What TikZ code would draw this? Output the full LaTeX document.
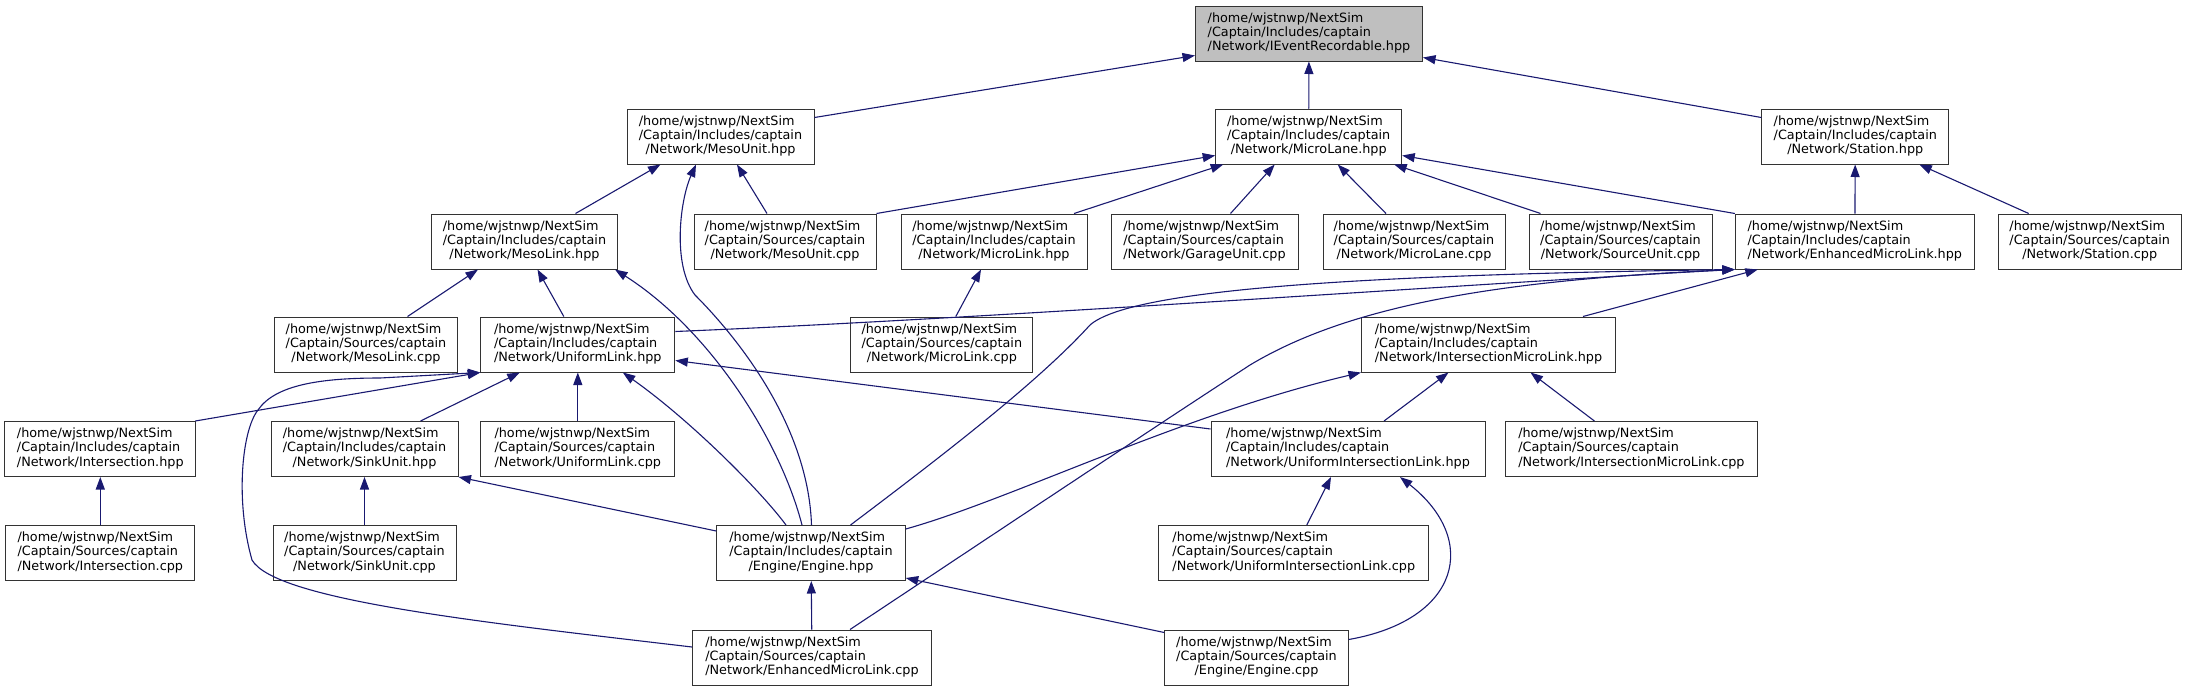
\documentclass[tikz,border=0pt]{standalone}
\usepackage{fontspec}
\setmainfont{DejaVu Sans}
\usetikzlibrary{arrows.meta}
\definecolor{edgeblue}{HTML}{191970}
% three-line file label: first two lines left, last one centred
\newcommand{\fpath}[2]{%
  \begin{tabular}{@{}l@{}}/home/wjstnwp/NextSim\\/Captain/#1/captain\\\multicolumn{1}{@{}c@{}}{/#2}\end{tabular}}

\begin{document}
\begin{tikzpicture}[
    x=1pt, y=1pt,
    file/.style={draw=black!80, line width=1pt, fill=white, minimum height=55pt, inner sep=3pt,
      font={\fontsize{12.8}{14.2}\selectfont}},
    root/.style={file, fill=black!25},
    inc/.style={draw=edgeblue, line width=1.1pt, -{Triangle[length=12.5pt, width=9pt]}},
  ]
  \useasboundingbox (0,0) rectangle (2187,-691);
  % row 1
  \node[root, minimum width=227pt] (ievent) at (1309,-33.5) {\fpath{Includes}{Network/IEventRecordable.hpp}};
  % row 2
  \node[file, minimum width=187pt] (mesounit) at (720.5,-136.5) {\fpath{Includes}{Network/MesoUnit.hpp}};
  \node[file, minimum width=186pt] (microlane) at (1308.7,-136.5) {\fpath{Includes}{Network/MicroLane.hpp}};
  \node[file, minimum width=187pt] (station) at (1855.3,-136.5) {\fpath{Includes}{Network/Station.hpp}};
  % row 3
  \node[file, minimum width=186pt] (mesolink) at (524.5,-241.5) {\fpath{Includes}{Network/MesoLink.hpp}};
  \node[file, minimum width=182pt] (mesounitcpp) at (785,-241.5) {\fpath{Sources}{Network/MesoUnit.cpp}};
  \node[file, minimum width=186pt] (microlink) at (994,-241.5) {\fpath{Includes}{Network/MicroLink.hpp}};
  \node[file, minimum width=187pt] (garagecpp) at (1204.5,-241.5) {\fpath{Sources}{Network/GarageUnit.cpp}};
  \node[file, minimum width=182pt] (microlanecpp) at (1414,-241.5) {\fpath{Sources}{Network/MicroLane.cpp}};
  \node[file, minimum width=183pt] (sourcecpp) at (1620.5,-241.5) {\fpath{Sources}{Network/SourceUnit.cpp}};
  \node[file, minimum width=239pt] (enhlink) at (1854.8,-241.5) {\fpath{Includes}{Network/EnhancedMicroLink.hpp}};
  \node[file, minimum width=183pt] (stationcpp) at (2089.7,-241.5) {\fpath{Sources}{Network/Station.cpp}};
  % row 4
  \node[file, minimum width=183pt] (mesolinkcpp) at (366,-344.5) {\fpath{Sources}{Network/MesoLink.cpp}};
  \node[file, minimum width=194pt] (uniformlink) at (577.8,-344.5) {\fpath{Includes}{Network/UniformLink.hpp}};
  \node[file, minimum width=182pt] (microlinkcpp) at (941.8,-344.5) {\fpath{Sources}{Network/MicroLink.cpp}};
  \node[file, minimum width=254pt] (imlink) at (1488.5,-344.5) {\fpath{Includes}{Network/IntersectionMicroLink.hpp}};
  % row 5
  \node[file, minimum width=191pt] (intersection) at (100.3,-449) {\fpath{Includes}{Network/Intersection.hpp}};
  \node[file, minimum width=187pt] (sinkunit) at (364.5,-449) {\fpath{Includes}{Network/SinkUnit.hpp}};
  \node[file, minimum width=194pt] (uniformlinkcpp) at (577.8,-449) {\fpath{Sources}{Network/UniformLink.cpp}};
  \node[file, minimum width=274pt] (uilink) at (1348,-449) {\fpath{Includes}{Network/UniformIntersectionLink.hpp}};
  \node[file, minimum width=252pt] (imlinkcpp) at (1631.4,-449) {\fpath{Sources}{Network/IntersectionMicroLink.cpp}};
  % row 6
  \node[file, minimum width=189pt] (intersectioncpp) at (100.3,-553) {\fpath{Sources}{Network/Intersection.cpp}};
  \node[file, minimum width=183pt] (sinkunitcpp) at (364.5,-553) {\fpath{Sources}{Network/SinkUnit.cpp}};
  \node[file, minimum width=188.5pt] (engine) at (811,-553) {\fpath{Includes}{Engine/Engine.hpp}};
  \node[file, minimum width=270pt] (uilinkcpp) at (1293.8,-553) {\fpath{Sources}{Network/UniformIntersectionLink.cpp}};
  % row 7
  \node[file, minimum width=239pt] (enhlinkcpp) at (812,-657.5) {\fpath{Sources}{Network/EnhancedMicroLink.cpp}};
  \node[file, minimum width=183.5pt] (enginecpp) at (1256.5,-657.5) {\fpath{Sources}{Engine/Engine.cpp}};

  % includes, arrow at the included header
  \draw[inc] ([yshift=-9pt]mesounit.north east) -- ([yshift=6pt]ievent.south west);
  \draw[inc] (microlane) -- (ievent);
  \draw[inc] ([yshift=-9pt]station.north west) -- ([yshift=4pt]ievent.south east);
  \draw[inc] ([xshift=51pt]mesolink.north) -- ([xshift=-60pt]mesounit.south);
  \draw[inc] ([xshift=-18pt]mesounitcpp.north) -- ([xshift=16.5pt]mesounit.south);
  \draw[inc] ([xshift=0.5pt]engine.north) .. controls (808,-420) and (730,-330) .. (695,-295)
    .. controls (672,-265) and (680,-200) .. ([xshift=-24.5pt]mesounit.south);
  \draw[inc] ([xshift=-9pt]engine.north) .. controls (780,-440) and (710,-330) .. ([xshift=-3pt]mesolink.south east);
  \draw[inc] (mesounitcpp.north east) -- ([yshift=9pt]microlane.south west);
  \draw[inc] ([xshift=80pt]microlink.north) -- ([xshift=8pt]microlane.south west);
  \draw[inc] ([xshift=26pt]garagecpp.north) -- ([xshift=-34pt]microlane.south);
  \draw[inc] ([xshift=-28pt]microlanecpp.north) -- ([xshift=29pt]microlane.south);
  \draw[inc] ([xshift=12pt]sourcecpp.north west) -- ([xshift=-8pt]microlane.south east);
  \draw[inc] (enhlink.north west) -- ([yshift=9pt]microlane.south east);
  \draw[inc] (enhlink) -- (station);
  \draw[inc] ([xshift=-61pt]stationcpp.north) -- ([xshift=64pt]station.south);
  \draw[inc] ([xshift=41.5pt]mesolinkcpp.north) -- ([xshift=-46.5pt]mesolink.south);
  \draw[inc] ([xshift=-14pt]uniformlink.north) -- ([xshift=13pt]mesolink.south);
  \draw[inc] ([xshift=14pt]microlinkcpp.north) -- ([xshift=-13pt]microlink.south);
  \draw[inc] ([yshift=-15pt]uniformlink.north east) .. controls (1000,-318) and (1500,-282) .. (enhlink.south west);
  \draw[inc] ([xshift=39.5pt]engine.north) .. controls (950,-450) and (1040,-380) .. (1090,-325)
    .. controls (1130,-290) and (1350,-275) .. (enhlink.south west);
  \draw[inc] ([xshift=38pt]enhlinkcpp.north) .. controls (1000,-530) and (1150,-430) .. (1250,-365)
    .. controls (1350,-305) and (1500,-280) .. (enhlink.south west);
  \draw[inc] ([xshift=94.5pt]imlink.north) -- ([xshift=-97pt]enhlink.south);
  \draw[inc] ([xshift=-1pt]intersection.north east) -- (uniformlink.south west);
  \draw[inc] ([xshift=56pt]sinkunit.north) -- ([xshift=-58pt]uniformlink.south);
  \draw[inc] (uniformlinkcpp) -- (uniformlink);
  \draw[inc] ([xshift=-25pt]engine.north) .. controls (760,-490) and (690,-420) .. ([xshift=45pt]uniformlink.south);
  \draw[inc] ([yshift=10.5pt]enhlinkcpp.west) .. controls (480,-622) and (275,-600) .. (252,-560)
    .. controls (235,-500) and (242,-430) .. (258,-410)
    .. controls (275,-385) and (320,-378) .. (380,-378) -- (uniformlink.south west);
  \draw[inc] ([yshift=-8pt]uilink.north west) -- ([yshift=12pt]uniformlink.south east);
  \draw[inc] ([xshift=36pt]uilink.north) -- ([xshift=-40pt]imlink.south);
  \draw[inc] ([yshift=-4pt]engine.north east) .. controls (1010,-500) and (1180,-415) .. (imlink.south west);
  \draw[inc] ([xshift=-37pt]imlinkcpp.north) -- ([xshift=42pt]imlink.south);
  \draw[inc] (intersectioncpp) -- (intersection);
  \draw[inc] (sinkunitcpp) -- (sinkunit);
  \draw[inc] ([yshift=-6pt]engine.north west) -- (sinkunit.south east);
  \draw[inc] ([xshift=13pt]uilinkcpp.north) -- ([xshift=-17pt]uilink.south);
  \draw[inc] ([yshift=-10pt]enginecpp.north east) .. controls (1460,-620) and (1480,-540) .. ([xshift=52pt]uilink.south);
  \draw[inc] (enhlinkcpp) -- (engine);
  \draw[inc] ([yshift=-3pt]enginecpp.north west) -- ([yshift=3pt]engine.south east);
\end{tikzpicture}
\end{document}
